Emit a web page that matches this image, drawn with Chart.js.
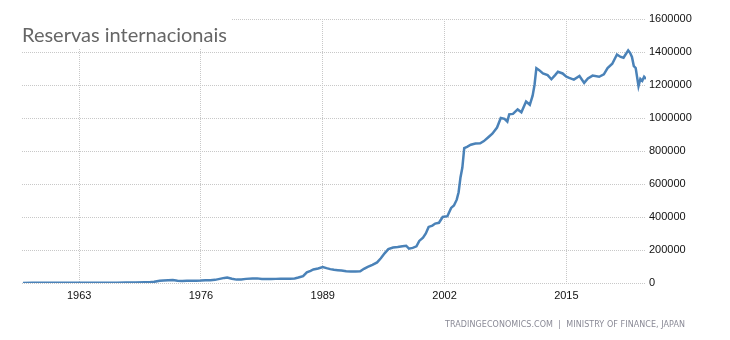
<!DOCTYPE html>
<html><head><meta charset="utf-8">
<script src="https://cdn.jsdelivr.net/npm/chart.js@4"></script>
<style>html,body{margin:0;padding:0;background:#fff;}#wrap{width:730px;height:340px;position:relative;}</style>
</head><body><div id="wrap"><canvas id="c" width="730" height="340"></canvas></div>
<script>
const titleText = 'Reservas internacionais';
const sourceText = 'TRADINGECONOMICS.COM  |  MINISTRY OF FINANCE, JAPAN';
const yearTicks = [1963, 1976, 1989, 2002, 2015];
const valueTicks = [0, 200000, 400000, 600000, 800000, 1000000, 1200000, 1400000, 1600000];

const years = [
  1957.0,1958.0,1959.0,1960.0,1961.0,1962.0,1963.0,1964.0,1965.0,1966.0,1967.0,1968.0,1969.0,1970.0,1970.5,
  1971.0,1971.6,1972.0,1972.5,1973.0,1973.5,1974.0,1974.5,1975.0,1975.5,1976.0,1976.5,1977.0,1977.5,1978.0,
  1978.5,1978.8,1979.3,1979.8,1980.3,1980.8,1981.5,1982.0,1982.5,1983.0,1983.5,1984.0,1984.5,1985.0,1985.5,
  1986.0,1986.4,1986.9,1987.3,1987.7,1988.0,1988.5,1989.0,1989.4,1989.8,1990.2,1990.6,1991.0,1991.5,1992.0,
  1992.5,1993.0,1993.4,1993.8,1994.3,1994.8,1995.2,1995.6,1996.0,1996.5,1997.0,1997.5,1997.9,1998.2,1998.6,
  1999.0,1999.3,1999.7,2000.0,2000.3,2000.7,2001.0,2001.4,2001.8,2002.3,2002.7,2003.0,2003.3,2003.5,2003.7,
  2003.9,2004.1,2004.4,2004.8,2005.3,2005.8,2006.2,2006.7,2007.1,2007.6,2008.0,2008.4,2008.7,2008.9,2009.3,
  2009.8,2010.2,2010.7,2011.1,2011.4,2011.6,2011.8,2012.1,2012.5,2013.0,2013.4,2013.8,2014.1,2014.6,2015.0,
  2015.3,2015.8,2016.4,2016.9,2017.3,2017.8,2018.5,2019.0,2019.4,2019.9,2020.4,2020.8,2021.1,2021.6,2021.8,
  2022.0,2022.2,2022.4,2022.7,2022.9,2023.1,2023.3,2023.5
];
const reserves = [
  500,900,1300,1800,1500,1800,1900,2000,2100,2100,2000,2900,3500,4400,5000,
  7000,13000,15500,17000,18000,14000,12500,13000,13500,14000,14500,16000,17000,19000,25000,
  31000,33000,26000,20500,21000,25000,27000,28000,24000,23500,24500,25000,25500,26000,26000,
  27000,33000,42000,65000,74000,82000,88000,97000,90000,84000,80000,78000,76000,71000,70000,
  70000,71000,86000,98000,110000,125000,150000,180000,205000,215000,218000,223000,226000,208000,213000,
  222000,255000,275000,300000,340000,348000,360000,365000,400000,405000,455000,470000,505000,550000,640000,
  700000,818000,825000,838000,845000,847000,860000,885000,905000,942000,1000000,995000,978000,1022000,1025000,
  1052000,1035000,1100000,1080000,1135000,1200000,1302000,1290000,1270000,1260000,1235000,1260000,1280000,1270000,1250000,
  1243000,1233000,1255000,1213000,1240000,1257000,1250000,1265000,1303000,1329000,1385000,1370000,1365000,1410000,1395000,
  1370000,1315000,1303000,1193000,1237000,1225000,1250000,1237000
];

const points = years.map((y, i) => ({ x: y, y: reserves[i] }));

const decor = {
  id: 'decor',
  beforeDatasetsDraw(chart) {
    const ctx = chart.ctx;
    ctx.save();
    ctx.fillStyle = '#fff';
    ctx.fillRect(0, 0, 231, 49);
    ctx.fillStyle = '#666';
    ctx.font = '20px Lato';
    ctx.textBaseline = 'alphabetic';
    ctx.textAlign = 'left';
    ctx.fillText(titleText, 22, 42);
    ctx.restore();
  },
  afterDraw(chart) {
    const ctx = chart.ctx;
    ctx.save();
    ctx.fillStyle = '#8a8a96';
    ctx.font = '8px "DejaVu Sans"';
    ctx.textBaseline = 'middle';
    ctx.textAlign = 'left';
    const target = 240;
    const base = ctx.measureText(sourceText).width;
    const sp = (target - base) / (sourceText.length - 1);
    ctx.letterSpacing = sp + 'px';
    ctx.fillText(sourceText, 445, 325);
    ctx.restore();
  }
};

const gridOpts = { color: '#c8c8c8', lineWidth: 1, drawTicks: false };

new Chart(document.getElementById('c'), {
  type: 'line',
  data: {
    datasets: [{
      data: points,
      borderColor: '#4a82b8',
      borderWidth: 2.5,
      pointRadius: 0,
      tension: 0,
      fill: false
    }]
  },
  options: {
    responsive: false,
    animation: false,
    events: [],
    layout: { padding: { left: 22, top: 19, right: 0, bottom: 0 } },
    plugins: { legend: { display: false }, tooltip: { enabled: false }, title: { display: false } },
    scales: {
      x: {
        type: 'linear',
        min: 1956.9,
        max: 2023.5,
        afterBuildTicks(scale) { scale.ticks = yearTicks.map(v => ({ value: v })); },
        afterFit(scale) { scale.height = 57; },
        ticks: {
          autoSkip: false, maxRotation: 0, padding: 6,
          color: '#111', font: { family: '"Liberation Sans"', size: 11 },
          callback: v => String(v)
        },
        grid: Object.assign({}, gridOpts),
        border: { display: false, dash: [1, 1] }
      },
      y: {
        position: 'right',
        min: 0,
        max: 1600000,
        afterBuildTicks(scale) { scale.ticks = valueTicks.map(v => ({ value: v })); },
        afterFit(scale) { scale.width = 84; },
        ticks: {
          padding: 3,
          color: '#111', font: { family: '"Liberation Sans"', size: 11 },
          callback: v => String(v)
        },
        grid: Object.assign({}, gridOpts),
        border: { display: false, dash: [1, 1] }
      }
    }
  },
  plugins: [decor]
});
</script>
</body></html>
